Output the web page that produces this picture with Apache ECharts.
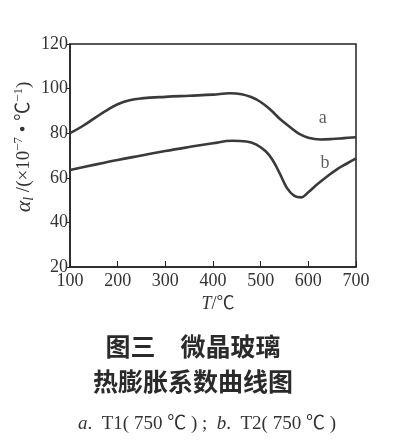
<!DOCTYPE html>
<html><head><meta charset="utf-8">
<script src="https://cdn.jsdelivr.net/npm/echarts@6/dist/echarts.min.js"></script>
<style>html,body{margin:0;padding:0;background:#fff;}#c{width:400px;height:440px;}</style>
</head><body><div id="c"></div>
<script>
const xTicks = [100, 200, 300, 400, 500, 600, 700];
const yTicks = [20, 40, 60, 80, 100, 120];
const seriesA = [[100,80],[125,83],[150,86.5],[175,90],[200,93],[225,94.8],[250,95.6],[300,96.3],[350,96.8],[400,97.3],[435,97.9],[460,97.5],[480,96.2],[500,94],[520,90.6],[540,86.5],[560,83],[580,79.8],[600,78],[625,77.2],[650,77.4],[675,77.8],[700,78.2]];
const seriesB = [[100,63.5],[150,65.8],[200,68],[250,70],[300,72],[350,73.8],[400,75.5],[440,76.6],[470,76.3],[490,75],[510,72],[525,68],[540,62],[555,55.5],[570,52],[585,51.2],[600,53.5],[620,57.3],[640,60.7],[660,63.8],[680,66.3],[700,68.7]];
const curveLabels = [['a', 630, 86.8], ['b', 635, 66.6]];
const serif = '"Liberation Serif","Noto Sans CJK SC",serif';
const ink = '#333';

const chart = echarts.init(document.getElementById('c'));
chart.setOption({
  backgroundColor:'#fff',
  animation:false,
  grid:{left:70, right:44, top:44, bottom:173, show:true, borderColor:'#222', borderWidth:1.5, backgroundColor:'transparent'},
  xAxis:{type:'value', min:xTicks[0], max:xTicks[xTicks.length-1], interval:100,
    axisLine:{lineStyle:{color:'#222', width:1.5}},
    axisTick:{inside:true, length:6, lineStyle:{color:'#222'}},
    splitLine:{show:false},
    axisLabel:{fontFamily:serif, fontSize:18, color:ink, margin:5},
    name:'{i|T}{n|/℃}', nameLocation:'middle', nameGap:27,
    nameTextStyle:{padding:[0,0,0,10], rich:{i:{fontFamily:serif, fontStyle:'italic', fontSize:18, color:ink}, n:{fontFamily:serif, fontSize:18, color:ink}}}
  },
  yAxis:{type:'value', min:yTicks[0], max:yTicks[yTicks.length-1], interval:20,
    axisLine:{lineStyle:{color:'#222', width:1.5}},
    axisTick:{show:true, inside:false, length:3, lineStyle:{color:'#222'}},
    splitLine:{show:false},
    axisLabel:{fontFamily:serif, fontSize:18, color:ink, margin:2}
  },
  series:[
    {type:'line', data:seriesA, smooth:0.4, showSymbol:false, lineStyle:{color:'#3a3a3a', width:2.6}},
    {type:'line', data:seriesB, smooth:0.4, showSymbol:false, lineStyle:{color:'#3a3a3a', width:2.6}},
    {type:'scatter', data:curveLabels.map(d => ({value:[d[1], d[2]], name:d[0]})), symbolSize:1,
      itemStyle:{color:'rgba(0,0,0,0)'},
      label:{show:true, position:'inside', formatter:p => p.name, fontFamily:serif, fontSize:18, color:ink}}
  ],
  graphic:[
    {type:'text', x:24, y:147, rotation:Math.PI/2, style:{
      text:'{a|α}{s|l}{n| /(×10}{p|−7}{n| • ℃}{p|−1}{n|)}', align:'center', verticalAlign:'middle',
      rich:{
        a:{fontFamily:serif, fontStyle:'italic', fontSize:22, fill:ink, lineHeight:24, verticalAlign:'middle'},
        s:{fontFamily:serif, fontStyle:'italic', fontSize:14, fill:ink, lineHeight:14, verticalAlign:'bottom'},
        n:{fontFamily:serif, fontSize:19, fill:ink, lineHeight:24, verticalAlign:'middle'},
        p:{fontFamily:serif, fontSize:13, fill:ink, lineHeight:13, verticalAlign:'top'}
      }}},
    {type:'text', x:193, y:346, style:{text:'图三　微晶玻璃', align:'center', verticalAlign:'middle', font:'bold 25px "Noto Sans CJK SC"', fill:'#2a2a2a'}},
    {type:'text', x:193, y:381, style:{text:'热膨胀系数曲线图', align:'center', verticalAlign:'middle', font:'bold 25px "Noto Sans CJK SC"', fill:'#2a2a2a'}},
    {type:'text', x:207, y:424, style:{
      text:'{i|a}{n|.  T1( 750 ℃ ) ;  }{i|b}{n|.  T2( 750 ℃ )}', align:'center', verticalAlign:'middle',
      rich:{i:{fontFamily:serif, fontStyle:'italic', fontSize:19, fill:ink}, n:{fontFamily:serif, fontSize:19, fill:ink}}
    }}
  ]
});
</script></body></html>
